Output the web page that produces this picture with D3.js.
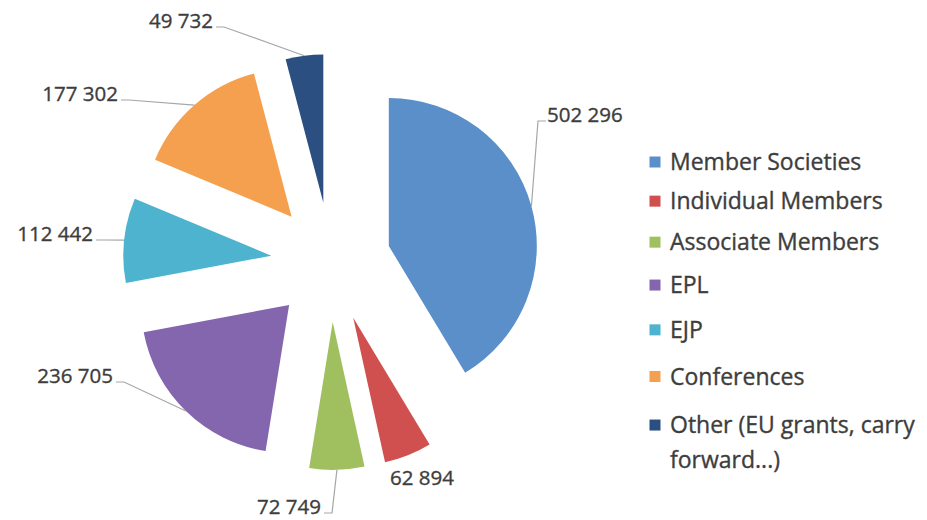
<!DOCTYPE html>
<html>
<head>
<meta charset="utf-8">
<script src="https://cdn.jsdelivr.net/npm/d3@7"></script>
<style>
  html, body { margin: 0; padding: 0; background: #ffffff; }
  svg { display: block; }
  text { font-family: "Open Sans", "DejaVu Sans", sans-serif; fill: #3d3d3d; stroke: #3d3d3d; stroke-width: 0.35px; }
</style>
</head>
<body>
<svg id="chart" width="927" height="520"></svg>
<script>
// ---- data ----
const categories = ["Member Societies", "Individual Members", "Associate Members", "EPL", "EJP", "Conferences", "Other (EU grants, carry forward...)"];
const values = [502296, 62894, 72749, 236705, 112442, 177302, 49732];
const colors = ["#5B8FC9", "#CF504E", "#A0C060", "#8466AE", "#4DB3CE", "#F4A04E", "#2B4F80"];
const legendLines = [["Member Societies"], ["Individual Members"], ["Associate Members"], ["EPL"], ["EJP"], ["Conferences"], ["Other (EU grants, carry", "forward...)"]];

// ---- layout (label placement, as dragged in the original) ----
const labelLayout = [
  { x: 547, y: 122, anchor: "start", leader: true },
  { x: 390, y: 485, anchor: "start", leader: false },
  { x: 321, y: 514, anchor: "end", leader: true },
  { x: 113, y: 383, anchor: "end", leader: true },
  { x: 93,  y: 241, anchor: "end", leader: true },
  { x: 118, y: 101, anchor: "end", leader: true },
  { x: 213, y: 28,  anchor: "end", leader: true }
];

const svg = d3.select("#chart");
const cx = 331, cy = 262, R = 148, explode = 60;

const pie = d3.pie().sort(null).value(d => d).startAngle(0).endAngle(2 * Math.PI);
const arcs = pie(values);
const arc = d3.arc().innerRadius(0).outerRadius(R);

const g = svg.append("g").attr("transform", `translate(${cx},${cy})`);

function dir(a) { return [Math.sin(a), -Math.cos(a)]; }

g.selectAll("path.slice")
  .data(arcs)
  .join("path")
  .attr("class", "slice")
  .attr("d", arc)
  .attr("fill", (d, i) => colors[i])
  .attr("transform", d => {
    const m = (d.startAngle + d.endAngle) / 2;
    const [ux, uy] = dir(m);
    return `translate(${ux * explode},${uy * explode})`;
  });

// ---- data labels with leader lines ----
const fmt = d3.formatLocale({ decimal: ".", thousands: " ", grouping: [3], currency: ["", ""] }).format(",d");

arcs.forEach((d, i) => {
  const L = labelLayout[i];
  const m = (d.startAngle + d.endAngle) / 2;
  const [ux, uy] = dir(m);
  const px = cx + ux * (explode + R), py = cy + uy * (explode + R);
  if (L.leader) {
    const sx = L.anchor === "end" ? L.x + 3 : L.x - 1;
    const sy = L.y - 1;
    const hx = L.anchor === "end" ? sx + 8 : sx - 8;
    svg.append("polyline")
      .attr("points", `${sx},${sy} ${hx},${sy} ${px},${py}`)
      .attr("fill", "none")
      .attr("stroke", "#A6A6A6")
      .attr("stroke-width", 1.2);
  }
  svg.append("text")
    .attr("x", L.x)
    .attr("y", L.y)
    .attr("text-anchor", L.anchor)
    .style("font-size", "20.5px")
    .text(fmt(values[i]));
});

// ---- legend ----
const legend = svg.append("g");
const legendY = i => 162 + 38.2 * i + 0.94 * i * i;
categories.forEach((c, i) => {
  const y = legendY(i);
  legend.append("rect")
    .attr("x", 649.5).attr("y", y - 5.5)
    .attr("width", 11).attr("height", 11)
    .attr("fill", colors[i]);
  const t = legend.append("text")
    .attr("x", 670)
    .attr("y", y + 8)
    .style("font-size", "23px");
  legendLines[i].forEach((line, j) => {
    t.append("tspan").attr("x", 670).attr("dy", j === 0 ? 0 : 35).text(line);
  });
});
</script>
</body>
</html>
